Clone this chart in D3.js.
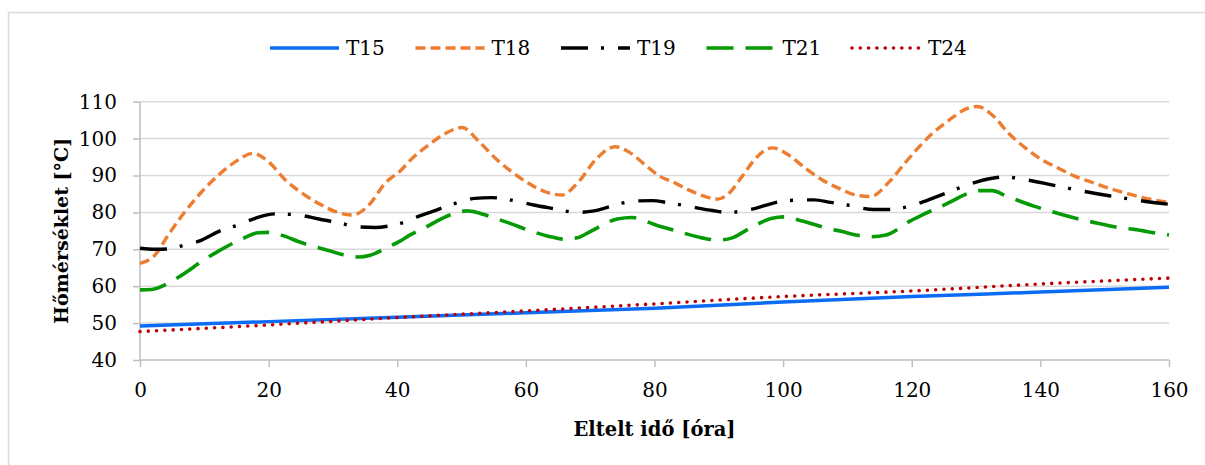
<!DOCTYPE html>
<html>
<head>
<meta charset="utf-8">
<script src="https://cdn.jsdelivr.net/npm/d3@7"></script>
<style>
  body { margin: 0; background: #fff; }
  text { font-family: "DejaVu Serif", serif; fill: #000; }
</style>
</head>
<body>
<div id="chart"></div>
<script>
// values (hours, degC)
var t15Hours = [0, 20, 40, 60, 80, 100, 120, 140, 160];
var t15Values = [49.2, 50.4, 51.6, 52.8, 54.0, 55.7, 57.2, 58.4, 59.7];

var t18Hours = [0, 2.3, 4.4, 7, 9.6, 12.2, 14.8, 17.6, 20, 22.6, 25.2, 27.8, 30.4, 33, 35.5, 38.1, 40.5,
  42.3, 44.9, 47.5, 50.1, 52.7, 55.3, 57.8, 60.4, 63, 65.6, 68.2, 70.8, 73.9, 76, 78.6, 80.9,
  82.8, 85.3, 87.9, 89.8, 91.6, 93.6, 95.7, 98.3, 100.9, 103.5, 106.1, 108.7, 111.3, 113.6, 116.5, 119,
  121, 123.2, 125.8, 128.4, 130.2, 132.5, 135.1, 137.7, 140.3, 142.9, 145.5, 148.1, 150.7, 153.3, 155.9, 160];
var t18Values = [66.2, 68.4, 73.9, 80.2, 85.6, 90.1, 93.7, 96.0, 93.7, 88.8, 85.2, 82.4, 80.2, 79.3, 81.8, 87.9, 91.3,
  94.6, 98.3, 101.4, 103.0, 99.2, 94.6, 91.0, 87.9, 85.6, 84.7, 88.3, 94.2, 97.8, 96.4, 92.8, 89.7,
  88.3, 86.1, 84.3, 83.6, 85.2, 89.7, 94.6, 97.5, 95.5, 91.9, 88.8, 86.5, 84.7, 84.3, 88.3, 93.5,
  97.5, 101.4, 105.0, 108.0, 108.7, 106.4, 101.4, 97.4, 94.2, 91.9, 89.7, 88.1, 86.5, 85.2, 84.0, 82.7];

var t19Hours = [0, 2.3, 4.4, 7, 9.6, 12.2, 15.6, 17.9, 21, 24.6, 27.8, 30.9, 33.7, 36.6, 38.7, 40.5,
  43.1, 45.4, 49.5, 52, 54.7, 58.9, 61.2, 64.1, 68, 70.6, 72.9, 77, 79.6,
  82.2, 86.4, 89, 91.3, 95.7, 98.2, 100.7, 104.8, 107.4, 110, 114.1, 116.7, 119.3,
  121, 123.2, 125.6, 128.1, 132.3, 134.6, 137.2, 141.4, 143.9, 146.5, 150.7, 153.3, 155.9, 160];
var t19Values = [70.3, 70.0, 70.1, 71.2, 72.5, 74.8, 76.8, 78.4, 79.6, 79.3, 78.2, 77.2, 76.1, 75.9, 76.3, 77.0,
  78.8, 80.2, 82.7, 83.8, 84.0, 82.9, 82.0, 81.1, 80.0, 80.4, 81.5, 83.1, 83.2,
  82.6, 81.3, 80.5, 80.0, 81.1, 82.4, 83.2, 83.4, 82.7, 82.0, 80.8, 80.8, 81.5,
  82.4, 83.8, 85.4, 87.1, 89.2, 89.6, 89.0, 87.6, 86.7, 85.8, 84.5, 83.8, 83.1, 82.2];

var t21Hours = [0, 1.8, 4.4, 6.5, 10.1, 12.2, 16.1, 18.4, 20, 22.6, 24.6, 29.3, 31.4, 34, 35.8, 38.1, 40.5,
  42, 44.1, 48.2, 50.8, 52.4, 54.7, 57.1, 61.2, 63.6, 66.2, 68, 70, 74.2, 76.5, 80.5,
  83, 87.4, 89.8, 92.1, 93.9, 96, 98.3, 100.1, 102.5, 106.9, 109.2, 111.3, 113.6, 116, 119.8,
  121.9, 126.1, 128.1, 130.5, 132.5, 134.6, 139, 141.4, 145.5, 147.8, 152.2, 154.6, 159, 160];
var t21Values = [59.0, 59.1, 60.8, 63.0, 67.3, 69.5, 73.0, 74.5, 74.6, 73.5, 72.1, 69.7, 68.6, 67.9, 68.4, 70.2, 72.3,
  73.9, 75.7, 79.3, 80.4, 80.0, 78.7, 77.3, 74.7, 73.5, 72.7, 73.1, 74.8, 78.2, 78.6, 76.4,
  75.2, 73.1, 72.5, 73.1, 74.8, 76.8, 78.4, 78.8, 77.9, 75.7, 74.8, 73.9, 73.4, 73.9, 77.7,
  79.5, 82.9, 84.7, 85.9, 85.9, 84.5, 81.7, 80.4, 78.4, 77.5, 75.9, 75.4, 74.1, 73.9];

var t24Hours = [0, 20, 40, 60, 80, 100, 120, 140, 160];
var t24Values = [47.7, 49.5, 51.5, 53.3, 55.2, 57.2, 58.7, 60.6, 62.2];

var seriesNames = ["T15", "T18", "T19", "T21", "T24"];
var xTicks = [0, 20, 40, 60, 80, 100, 120, 140, 160];
var yTicks = [40, 50, 60, 70, 80, 90, 100, 110];

var styles = {
  T15: {color: "#0a6cf5", dash: null, cap: "butt", width: 3.5},
  T18: {color: "#ed7d31", dash: "10,5", cap: "butt", width: 3.4},
  T19: {color: "#000000", dash: "27,13,3,14", cap: "butt", width: 3.4},
  T21: {color: "#079a07", dash: "27,12", cap: "butt", width: 3.6},
  T24: {color: "#c00000", dash: "0,8.3", cap: "round", width: 3.6}
};

function pairs(hours, values) {
  return hours.map(function (h, i) { return {hour: h, temp: values[i]}; });
}

var series = [
  {name: "T15", values: pairs(t15Hours, t15Values)},
  {name: "T18", values: pairs(t18Hours, t18Values)},
  {name: "T19", values: pairs(t19Hours, t19Values)},
  {name: "T21", values: pairs(t21Hours, t21Values)},
  {name: "T24", values: pairs(t24Hours, t24Values)}
];

var W = 1205, H = 465;
var margin = {top: 101.7, right: 36, bottom: 105, left: 140}
  , width = W - margin.left - margin.right
  , height = H - margin.top - margin.bottom;

var svg = d3.select("#chart").append("svg")
  .attr("width", W)
  .attr("height", H);

// outer chart border
svg.append("rect")
  .attr("x", 8.5).attr("y", 12.5)
  .attr("width", 1400).attr("height", 600)
  .attr("fill", "none")
  .attr("stroke", "#d9d9d9")
  .attr("stroke-width", 1.5);

var g = svg.append("g")
  .attr("transform", "translate(" + margin.left + "," + margin.top + ")");

var xScale = d3.scaleLinear().domain([0, 160]).range([0, width]);
var yScale = d3.scaleLinear().domain([40, 110]).range([height, 0]);

// gridlines
g.append("g")
  .selectAll("line")
  .data(yTicks.slice(1))
  .enter().append("line")
  .attr("x1", 0).attr("x2", width)
  .attr("y1", function (d) { return yScale(d); })
  .attr("y2", function (d) { return yScale(d); })
  .attr("stroke", "#d9d9d9")
  .attr("stroke-width", 1.5);

var yAxis = g.append("g")
  .attr("class", "y axis")
  .call(d3.axisLeft(yScale).tickValues(yTicks).tickSize(7).tickPadding(16));

var xAxis = g.append("g")
  .attr("class", "x axis")
  .attr("transform", "translate(0," + height + ")")
  .call(d3.axisBottom(xScale).tickValues(xTicks).tickSize(7).tickPadding(16));

[xAxis, yAxis].forEach(function (ax) {
  ax.select(".domain").attr("stroke", "#bfbfbf").attr("stroke-width", 1.5);
  ax.selectAll(".tick line").attr("stroke", "#bfbfbf").attr("stroke-width", 1.5);
  ax.selectAll("text")
    .attr("fill", "#000")
    .style("font-family", "DejaVu Serif")
    .style("font-size", "20px");
});
// y axis has no outer end tick past the plot
yAxis.select(".domain").attr("d", "M0," + height + "V0");
xAxis.select(".domain").attr("d", "M0,0H" + width);

var line = d3.line()
  .x(function (d) { return xScale(d.hour); })
  .y(function (d) { return yScale(d.temp); })
  .curve(d3.curveMonotoneX);

g.selectAll(".series")
  .data(series)
  .enter().append("path")
  .attr("class", "series")
  .attr("d", function (d) { return line(d.values); })
  .attr("fill", "none")
  .attr("stroke", function (d) { return styles[d.name].color; })
  .attr("stroke-width", function (d) { return styles[d.name].width; })
  .attr("stroke-dasharray", function (d) { return styles[d.name].dash; })
  .attr("stroke-linecap", function (d) { return styles[d.name].cap; })
  .attr("stroke-linejoin", "round");

// axis titles
svg.append("text")
  .attr("x", margin.left + width / 2)
  .attr("y", 436)
  .attr("text-anchor", "middle")
  .style("font-size", "19.5px")
  .style("font-weight", "bold")
  .text("Eltelt idő [óra]");

svg.append("text")
  .attr("transform", "translate(68," + (margin.top + height / 2) + ") rotate(-90)")
  .attr("text-anchor", "middle")
  .style("font-size", "19px")
  .style("font-weight", "bold")
  .text("Hőmérséklet [°C]");

// legend
var legendX = d3.scalePoint().domain(seriesNames).range([270, 852]);
var legend = svg.selectAll(".legend")
  .data(seriesNames)
  .enter().append("g")
  .attr("class", "legend")
  .attr("transform", function (d) { return "translate(" + legendX(d) + ",48)"; });

legend.append("line")
  .attr("x1", 0).attr("x2", 69)
  .attr("y1", 0).attr("y2", 0)
  .attr("stroke", function (d) { return styles[d].color; })
  .attr("stroke-width", function (d) { return styles[d].width; })
  .attr("stroke-dasharray", function (d) { return styles[d].dash; })
  .attr("stroke-linecap", function (d) { return styles[d].cap; });

legend.append("text")
  .attr("x", 76)
  .attr("y", 7)
  .style("font-size", "20px")
  .text(function (d) { return d; });
</script>
</body>
</html>
